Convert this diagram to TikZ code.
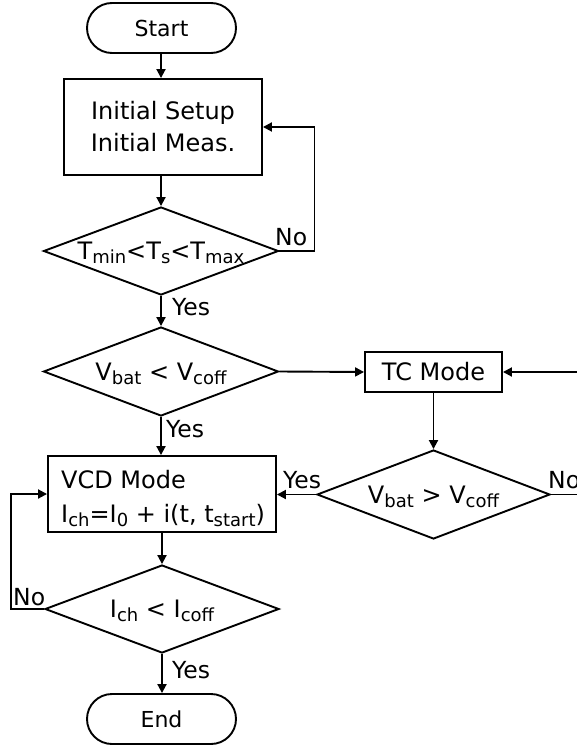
\documentclass[tikz,border=0pt]{standalone}
\usepackage{fontspec}
\setmainfont{DejaVu Sans}
\usetikzlibrary{shapes.geometric,arrows.meta}

% lowered subscript that does not change the line height
\newcommand\sbs[1]{\raisebox{-4pt}[0pt][0pt]{\fontsize{18}{18}\selectfont #1}}

\tikzset{
  flow/.style={draw, line width=1.9pt},
  term/.style={flow, rectangle, rounded corners=25pt, minimum width=149pt,
    minimum height=50pt, inner sep=0pt, font=\fontsize{22}{26}\selectfont},
  proc/.style={flow, rectangle, inner sep=0pt, align=center,
    font=\fontsize{24}{32}\selectfont},
  decide/.style={flow, diamond, aspect=2.67, inner sep=0pt,
    font=\fontsize{24}{28}\selectfont},
  txt/.style={anchor=base west, inner sep=0pt, font=\fontsize{24}{28}\selectfont},
  lbl/.style={anchor=base west, inner sep=0pt, font=\fontsize{23.5}{28}\selectfont},
  conn/.style={line width=1.9pt, -{Triangle[length=9pt,width=9pt]}},
}

\begin{document}
\begin{tikzpicture}[x=1pt,y=-1pt]
\useasboundingbox (0,0) rectangle (577,746);

% main vertical axis of the flow
\coordinate (axis) at (161,0);

% nodes
\node[term] (start) at (161.5,28) {Start};
\node[proc, minimum width=198pt, minimum height=96pt] (init) at (163,127)
  {Initial Setup\\Initial Meas.};
\node[decide, minimum width=235pt, minimum height=88pt] (d1) at (161,251)
  {T\sbs{min}<T\sbs{s}<T\sbs{max}};
\node[decide, minimum width=235pt, minimum height=89pt] (d2) at (161,371.5)
  {V\sbs{bat} < V\sbs{coff}};
\node[proc, minimum width=137pt, minimum height=40pt] (tc) at (433.5,372) {TC Mode};
\node[decide, minimum width=233pt, minimum height=89pt] (d3) at (433.5,494.5)
  {V\sbs{bat} > V\sbs{coff}};
\node[proc, minimum width=228pt, minimum height=76pt] (vcd) at (162,494) {};
\node[txt] (vcdA) at (61,488) {VCD Mode};
\node[txt] (vcdB) at (61,522) {I\sbs{ch}=I\sbs{0} + i(t, t\sbs{start})};
\node[decide, minimum width=234pt, minimum height=88pt] (d4) at (162,609)
  {I\sbs{ch} < I\sbs{coff}};
\node[term] (endn) at (161.5,719) {End};

% connectors
\draw[conn] (start.south -| axis) -- (init.north -| axis);
\draw[conn] (init.south -| axis) -- (d1.north);
\draw[conn] (d1.east) -- ++(35,0) |- (init.east);
\draw[conn] (d1.south) -- (d2.north);
\draw[conn] (d2.east) -- (tc.west);
\draw[conn] (d3.east) -- ++(60,0) |- (tc.east);
\draw[conn] (tc.south) -- (d3.north);
\draw[conn] (d3.west) -- (vcd.east |- d3.west);
\draw[conn] (d2.south) -- (d2.south |- vcd.north);
\draw[conn] (vcd.south -| d4.north) -- (d4.north);
\draw[conn] (d4.west) -- ++(-33,0) |- (vcd.west);
\draw[conn] (d4.south) -- (d4.south |- endn.north);

% branch labels
\node[lbl] (n1) at (275,245) {No};
\node[lbl] (y1) at (172,315) {Yes};
\node[lbl] (y2) at (166,437) {Yes};
\node[lbl] (y3) at (283,488) {Yes};
\node[lbl] (n3) at (548,488) {No};
\node[lbl] (n4) at (13,605) {No};
\node[lbl] (y4) at (172,678) {Yes};
\end{tikzpicture}
\end{document}
